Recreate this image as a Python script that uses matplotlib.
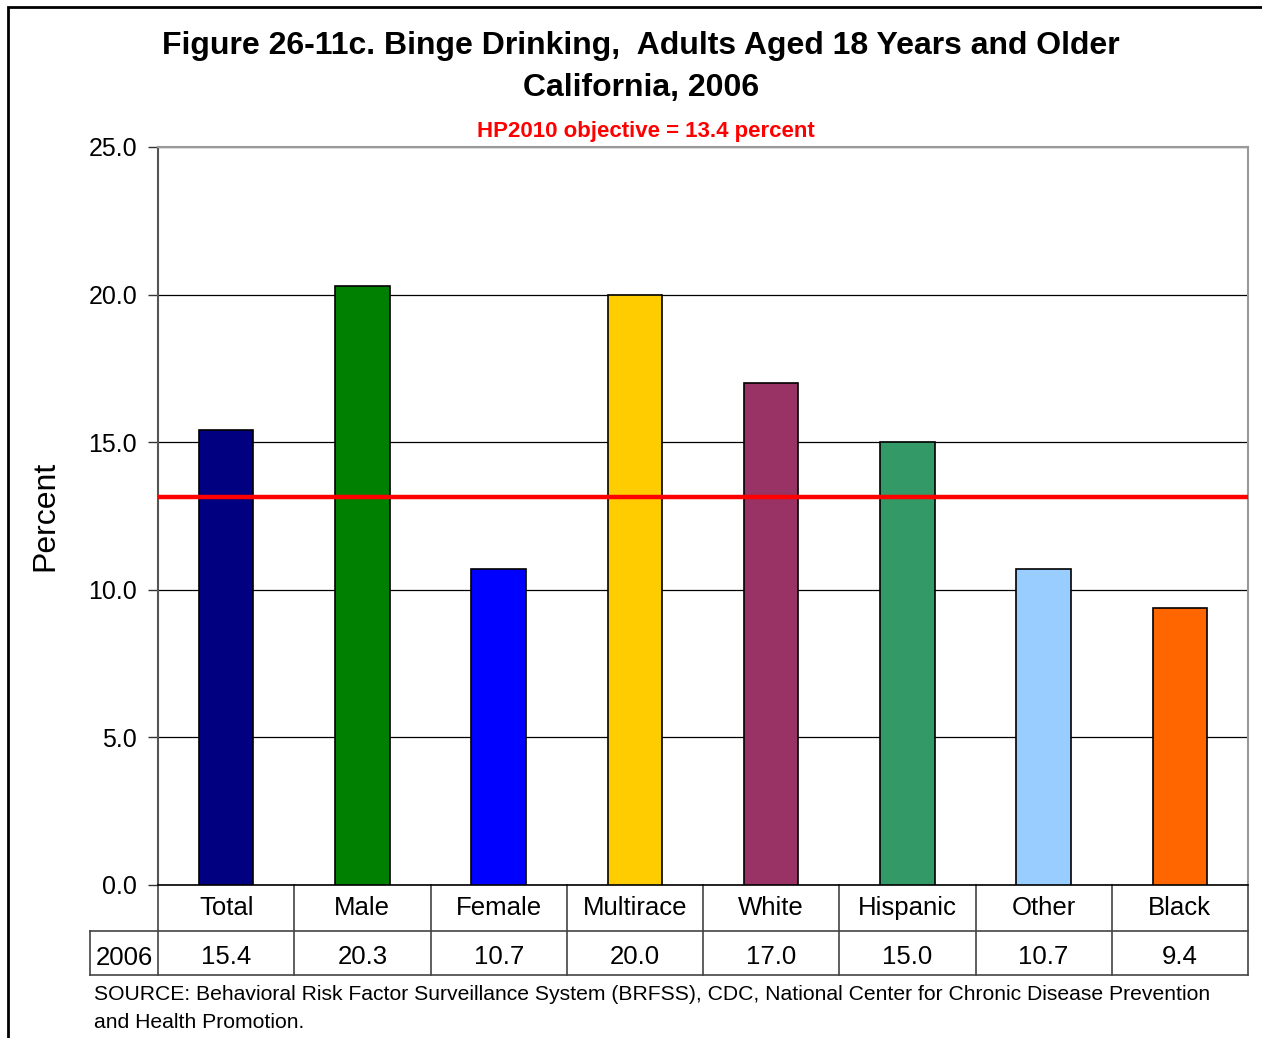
import matplotlib
matplotlib.use("Agg")
import matplotlib.pyplot as plt
from matplotlib.patches import Rectangle
from matplotlib.lines import Line2D

plt.rcParams['font.family'] = ['Liberation Sans', 'DejaVu Sans']

# data
groups = ['Total', 'Male', 'Female', 'Multirace', 'White', 'Hispanic', 'Other', 'Black']
values = [15.4, 20.3, 10.7, 20.0, 17.0, 15.0, 10.7, 9.4]
colors = ['#000080', '#008000', '#0000FF', '#FFCC00', '#993366', '#339966', '#99CCFF', '#FF6600']
year = '2006'
objective = 13.15  # where the red line sits in the picture
yticks = [0, 5, 10, 15, 20, 25]

fig = plt.figure(figsize=(12.62, 10.38), dpi=100)
W, H = 1262, 1038

# outer frame (left and top edges visible)
fig.add_artist(Rectangle((8 / W, -0.05), 1.2, 1 - 7 / H + 0.05, transform=fig.transFigure,
                         fill=False, edgecolor='black', linewidth=2))

ax = fig.add_axes([158 / W, 1 - 885 / H, (1248 - 158) / W, (885 - 147) / H])
x = range(len(groups))
ax.bar(x, values, width=0.4, color=colors, edgecolor='black', linewidth=1.2, zorder=3)
ax.axhline(objective, color='#FF0000', linewidth=3.2, zorder=4)

ax.set_xlim(-0.5, len(groups) - 0.5)
ax.set_ylim(0, 25)
ax.set_yticks(yticks)
ax.set_yticklabels(['%.1f' % t for t in yticks], fontsize=18)
ax.yaxis.grid(True, color='black', linewidth=0.9, zorder=0)
ax.set_xticks([])
ax.tick_params(axis='y', length=7, width=1, color='#333333', pad=8)
for s in ['top', 'right']:
    ax.spines[s].set_color('#999999')
    ax.spines[s].set_linewidth(1.5)
ax.spines['left'].set_color('#555555')
ax.spines['left'].set_linewidth(1.5)
ax.spines['bottom'].set_color('black')
ax.spines['bottom'].set_linewidth(1.2)
ax.set_ylabel('Percent', fontsize=23, labelpad=20)

# data table drawn under the axes
n = len(groups)
ppx = 25 / (885 - 147)  # data units per pixel on y
y_top = 0
y_mid = -(931 - 885) * ppx
y_bot = -(975 - 885) * ppx
lab_left = -0.5 - (158 - 90) / 136
lc = '#444444'
def hline(x0, x1, y):
    ax.add_line(Line2D([x0, x1], [y, y], color=lc, linewidth=1.2, clip_on=False))
def vline(xx, y0, y1):
    ax.add_line(Line2D([xx, xx], [y0, y1], color=lc, linewidth=1.2, clip_on=False))

hline(lab_left, n - 0.5, y_mid)
hline(lab_left, n - 0.5, y_bot)
vline(lab_left, y_mid, y_bot)
for i in range(n + 1):
    vline(i - 0.5, y_top, y_bot)
for i, (g, v) in enumerate(zip(groups, values)):
    ax.text(i, (y_top + y_mid) / 2, g, ha='center', va='center', fontsize=18.5, clip_on=False)
    ax.text(i, (y_mid + y_bot) / 2 - 4 * ppx, '%.1f' % v, ha='center', va='center', fontsize=18.5,
            clip_on=False)
ax.text((lab_left + -0.5) / 2, (y_mid + y_bot) / 2 - 5 * ppx, year, ha='center', va='center',
        fontsize=18.5, clip_on=False)

# titles
fig.text(641 / W, 1 - 46 / H, 'Figure 26-11c. Binge Drinking,  Adults Aged 18 Years and Older',
         ha='center', va='center', fontsize=23, fontweight='bold')
fig.text(641 / W, 1 - 88 / H, 'California, 2006', ha='center', va='center',
         fontsize=23, fontweight='bold')
fig.text(646 / W, 1 - 131 / H, 'HP2010 objective = 13.4 percent', ha='center', va='center',
         fontsize=16, fontweight='bold', color='#FF0000')

fig.text(94 / W, 1 - 994 / H,
         'SOURCE: Behavioral Risk Factor Surveillance System (BRFSS), CDC, National Center for Chronic Disease Prevention',
         ha='left', va='center', fontsize=15.25)
fig.text(94 / W, 1 - 1023 / H, 'and Health Promotion.', ha='left', va='center', fontsize=15.25)

fig.savefig('out.png', dpi=100)
